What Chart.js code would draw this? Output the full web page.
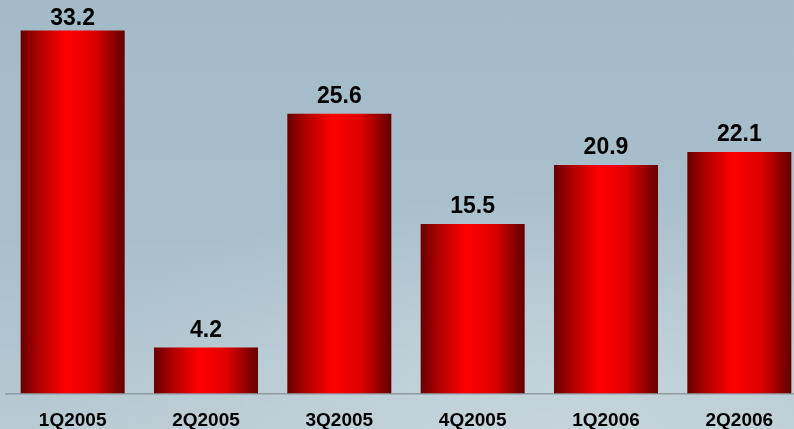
<!DOCTYPE html>
<html>
<head>
<meta charset="utf-8">
<script src="https://cdn.jsdelivr.net/npm/chart.js@4"></script>
<style>
  html, body { margin: 0; padding: 0; overflow: hidden; }
  body {
    width: 794px; height: 429px;
    background: radial-gradient(ellipse 520px 260px at 560px 440px, #c6d5dc 0%, rgba(198,213,220,0) 100%),
                linear-gradient(to bottom, #a3bac8 0%, #a9bfcc 55%, #b8cad3 100%);
  }
  #wrap { position: relative; width: 812px; height: 429px; }
  #Quarterly { display: block; width: 812px; height: 429px; }
</style>
</head>
<body>
<div id="wrap"><canvas id="Quarterly" width="812" height="429"></canvas></div>
<script>
// quarterly values
var quarters = ["1Q2005", "2Q2005", "3Q2005", "4Q2005", "1Q2006", "2Q2006"];
var values = [33.2, 4.2, 25.6, 15.5, 20.9, 22.1];

var BAR_PCT = 0.78;

// horizontal dark-bright-dark gradient across each bar
function barFill(context) {
    var chart = context.chart;
    var area = chart.chartArea;
    if (!area) return "#e00000";
    var xScale = chart.scales.x;
    var cx = xScale.getPixelForValue(context.dataIndex);
    var half = (area.right - area.left) / quarters.length * BAR_PCT / 2;
    var g = chart.ctx.createLinearGradient(cx - half, 0, cx + half, 0);
    g.addColorStop(0, "#680000");
    g.addColorStop(0.2, "#b80000");
    g.addColorStop(0.44, "#ff0000");
    g.addColorStop(0.7, "#e00000");
    g.addColorStop(1, "#620000");
    return g;
}

// value on top of every bar (kept inside the canvas for the tallest one)
var valueLabels = {
    id: "valueLabels",
    afterDatasetsDraw: function (chart) {
        var c = chart.ctx;
        var meta = chart.getDatasetMeta(0);
        c.save();
        c.font = "bold 23px 'Liberation Sans', Arial, sans-serif";
        c.fillStyle = "#000";
        c.textAlign = "center";
        c.textBaseline = "alphabetic";
        meta.data.forEach(function (bar, i) {
            var y = Math.max(bar.y - 11, 25);
            c.fillText(values[i].toFixed(1), bar.x, y);
        });
        c.restore();
    }
};

var ctx = document.getElementById("Quarterly");
new Chart(ctx, {
    type: "bar",
    data: {
        labels: quarters,
        datasets: [
            {
                data: values,
                backgroundColor: barFill,
                borderWidth: 0,
                barPercentage: BAR_PCT,
                categoryPercentage: 1,
            },
        ],
    },
    options: {
        responsive: false,
        maintainAspectRatio: false,
        animation: false,
        layout: {
            padding: { left: 6, right: 6, top: 0, bottom: 0 },
        },
        plugins: {
            legend: { display: false },
            tooltip: { enabled: false },
        },
        scales: {
            x: {
                grid: { display: false, drawTicks: false },
                border: { display: true, color: "#8f9ba3", width: 1.5 },
                ticks: {
                    color: "#000",
                    padding: 16,
                    maxRotation: 0,
                    font: { family: "'Liberation Sans', Arial, sans-serif", size: 19, weight: "bold" },
                },
                afterFit: function (scale) {
                    scale.height = 35.5;
                },
            },
            y: {
                display: false,
                min: 0,
                max: 36,
            },
        },
    },
    plugins: [valueLabels],
});
</script>
</body>
</html>
